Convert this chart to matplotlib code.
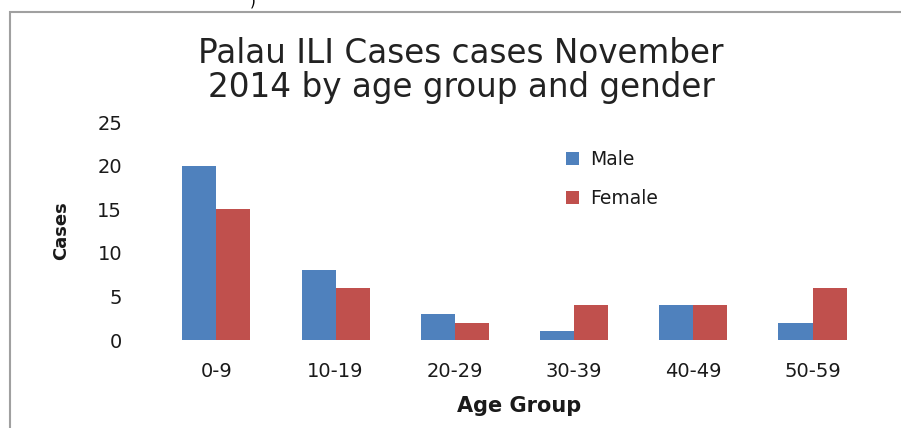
import numpy as np
import matplotlib.pyplot as plt
from matplotlib.patches import Rectangle

# Data
age_groups = ['0-9', '10-19', '20-29', '30-39', '40-49', '50-59']
male = [20, 8, 3, 1, 4, 2]
female = [15, 6, 2, 4, 4, 6]

blue = '#4F81BD'
red = '#C0504D'
font = 'DejaVu Sans'
txt = '#1a1a1a'

W, H = 901, 428
fig = plt.figure(figsize=(W / 100, H / 100), dpi=100)
ax = fig.add_axes([0.174, 0.2056, 0.794, 0.509])

x = np.arange(len(age_groups))
w = 2 / 7
ax.bar(x - w / 2, male, w, color=blue, label='Male')
ax.bar(x + w / 2, female, w, color=red, label='Female')

ax.set_xlim(-0.5, len(age_groups) - 0.5)
ax.set_ylim(0, 25)
ax.set_yticks(range(0, 26, 5))
ax.set_xticks(x)
ax.set_xticklabels(age_groups)
for s in ax.spines.values():
    s.set_visible(False)
ax.tick_params(length=0, labelsize=14, colors=txt)
ax.tick_params(axis='y', pad=25)
ax.tick_params(axis='x', pad=16)
for lab in ax.get_xticklabels() + ax.get_yticklabels():
    lab.set_fontfamily(font)

fig.text(519 / W, 1 - 406 / H, 'Age Group', ha='center', va='center',
         fontsize=15, fontweight='bold', family=font, color=txt)
fig.text(61 / W, 1 - 231 / H, 'Cases', ha='center', va='center', rotation=90,
         fontsize=13, fontweight='bold', family=font, color=txt)

# title, two lines
fig.text(461 / W, 1 - 63 / H, 'Palau ILI Cases cases November',
         ha='center', va='baseline', fontsize=23.5, family=font, color='#222222')
fig.text(461 / W, 1 - 97 / H, '2014 by age group and gender',
         ha='center', va='baseline', fontsize=23.5, family=font, color='#222222')

leg = ax.legend(loc='upper left', bbox_to_anchor=(566 / W, 1 - 150 / H),
                bbox_transform=fig.transFigure, frameon=False,
                prop={'family': font, 'size': 13.5}, handlelength=0.7,
                handleheight=0.7, labelspacing=1.05, handletextpad=0.6,
                borderpad=0, borderaxespad=0)
for t in leg.get_texts():
    t.set_color(txt)

# outer border of the chart area
fig.add_artist(Rectangle((10 / W, -0.1), 1.2, 1 - 12 / H + 0.1,
                         transform=fig.transFigure, fill=False,
                         edgecolor='#A0A0A0', linewidth=1.5))
fig.text(250 / W, 1 - 1 / H, ')', ha='left', va='center', fontsize=11, family=font)

fig.savefig('out.png', dpi=100)
